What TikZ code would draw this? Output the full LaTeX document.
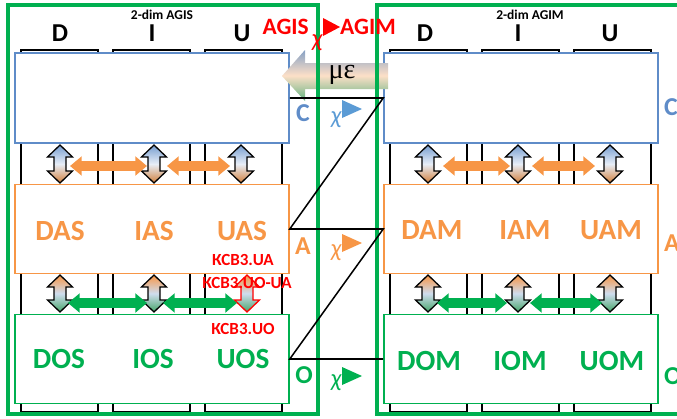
\documentclass[tikz,border=0pt]{standalone}
\usepackage{fontspec}
\setmainfont{Carlito}
\newfontfamily\grserif{Liberation Serif}
\usetikzlibrary{arrows.meta}

\definecolor{cblue}{RGB}{95,140,200}
\definecolor{xblue}{RGB}{91,155,213}
\definecolor{aorange}{RGB}{247,150,70}
\definecolor{ogreen}{RGB}{0,176,80}
\definecolor{tgreen}{RGB}{70,165,105}

% fat vertical double arrow: x, top y, bottom y, shading, border colour
\newcommand{\vdarr}[5]{%
  \shade[#4, draw=#5, line width=1.1pt, line join=miter]
    (#1,#2) -- ++(12.5,12) -- ++(-6.5,0) -- (#1+6,#3-12) -- ++(6.5,0)
    -- (#1,#3) -- ++(-12.5,-12) -- ++(6.5,0) -- (#1-6,#2+12) -- ++(-6.5,0) -- cycle;}

\begin{document}
\begin{tikzpicture}[x=0.03cm, y=-0.03cm,
    box/.style={draw, fill=white, line width=1.3pt, minimum width=8.22cm,
      minimum height=2.66cm, inner sep=0pt},
    col/.style={draw=black, line width=1.3pt},
    frame/.style={draw=ogreen, line width=2.6pt},
    colhead/.style={font=\fontsize{22}{22}\selectfont\bfseries, inner sep=0pt},
    lbl/.style={font=\fontsize{25}{25}\selectfont\bfseries, inner sep=0pt},
    side/.style={font=\fontsize{22}{22}\selectfont\bfseries, inner sep=0pt},
    tag/.style={text=red, font=\fontsize{14.5}{14.5}\selectfont\bfseries, inner sep=0pt},
    chi/.style={font=\fontsize{21}{21}\selectfont\itshape, inner sep=0pt},
    harr/.style={line width=8pt, {Triangle[length=10pt,width=16pt]}-{Triangle[length=10pt,width=16pt]}},
    caShade/.style={top color=cblue!85, bottom color=aorange!85!black, middle color=white!85!cblue},
    aoShade/.style={top color=aorange, bottom color=tgreen, middle color=white!70!cblue},
  ]
  \useasboundingbox (0,0) rectangle (677,418);
  \clip (0,0) rectangle (677,418);

  % columns D, I, U behind the boxes
  \foreach \x in {21,113,205,390,482,574}
    \draw[col] (\x,50) rectangle ++(77,362);

  % left system
  \node[box, draw=cblue, minimum height=2.7cm] (lC) at (152,98) {};
  \node[box, draw=aorange] (lA) at (152,229) {};
  \node[box, draw=ogreen] (lO) at (152,359) {};

  % right system
  \node[box, draw=cblue, minimum height=2.7cm] (rC) at (521,98) {};
  \node[box, draw=aorange] (rA) at (521,229) {};
  \node[box, draw=ogreen] (rO) at (521,359) {};

  % box texts
  \begin{scope}[text=aorange]
    \node[lbl] (das) at (60,231) {DAS};
    \node[lbl] (ias) at (154,231) {IAS};
    \node[lbl] (uas) at (242,231) {UAS};
    \node[lbl] (dam) at (432,230) {DAM};
    \node[lbl] (iam) at (525,230) {IAM};
    \node[lbl] (uam) at (611,230) {UAM};
  \end{scope}
  \begin{scope}[text=ogreen]
    \node[lbl] (dos) at (59,359) {DOS};
    \node[lbl] (ios) at (153,359) {IOS};
    \node[lbl] (uos) at (243,359) {UOS};
    \node[lbl] (dom) at (429,361) {DOM};
    \node[lbl] (iom) at (520,361) {IOM};
    \node[lbl] (uom) at (612,361) {UOM};
  \end{scope}

  % links C -- A
  \foreach \x in {60,154,241,428,518,610}
    \vdarr{\x}{145}{183}{caShade}{black};
  \begin{scope}[aorange]
    \draw[harr] (70,166) -- (147,166);
    \draw[harr] (167,166) -- (230,166);
    \draw[harr] (443,166) -- (510,166);
    \draw[harr] (532,166) -- (595,166);
  \end{scope}

  % links A -- O
  \foreach \x in {60,154,428,518,610}
    \vdarr{\x}{275}{312}{aoShade}{black};
  \vdarr{247}{275}{312}{aoShade}{red};
  \begin{scope}[ogreen]
    \draw[harr] (68,303) -- (147,303);
    \draw[harr] (163,303) -- (237,303);
    \draw[harr] (437,303) -- (507,303);
    \draw[harr] (530,303) -- (602,303);
  \end{scope}

  % mu epsilon arrow
  \shade[top color=cblue!75!gray!80, bottom color=tgreen!85, middle color=aorange!30]
    (282,76) -- (305,50) -- (305,63) -- (388,63) -- (388,89) -- (305,89) -- (305,101) -- cycle;
  \node[font=\grserif\fontsize{24}{24}\selectfont, inner sep=0pt] (me) at (342,75) {με};

  % frames
  \draw[frame] (8,5) rectangle (318,414);
  \draw[frame] (377,5) rectangle (700,414);

  % chi connectors
  \draw[line width=1.3pt] (lC.east) -- (rC.west) -- (lA.east) -- (rA.west) -- (lO.east) -- (rO.west);

  % titles and column heads
  \node[font=\fontsize{11.5}{11.5}\selectfont\bfseries, inner sep=0pt] (tl) at (162,15) {2-dim AGIS};
  \node[font=\fontsize{11.5}{11.5}\selectfont\bfseries, inner sep=0pt] (tr) at (530,15) {2-dim AGIM};
  \node[colhead] (hld) at (60,33) {D};
  \node[colhead] (hli) at (152,33) {I};
  \node[colhead] (hlu) at (242,33) {U};
  \node[colhead] (hrd) at (425,33) {D};
  \node[colhead] (hri) at (518,33) {I};
  \node[colhead] (hru) at (610,33) {U};

  % AGIS -> AGIM
  \node[text=red, font=\fontsize{20}{20}\selectfont\bfseries, inner sep=0pt, anchor=east] (agis) at (309,27) {AGIS};
  \node[chi, text=red] (chir) at (317,43) {χ};
  \fill[red] (323,18) -- (323,36) -- (340,27) -- cycle;
  \node[text=red, font=\fontsize{20}{20}\selectfont\bfseries, inner sep=0pt, anchor=west] (agim) at (340,27) {AGIM};

  % level letters
  \node[side, text=cblue] (lc) at (303,113) {C};
  \node[side, text=aorange] (la) at (303,246) {A};
  \node[side, text=ogreen] (lo) at (304,375) {O};
  \node[side, text=cblue, anchor=west] (rc) at (664,107) {C};
  \node[side, text=aorange, anchor=west] (ra) at (664,243) {A};
  \node[side, text=ogreen, anchor=west] (ro) at (664,376) {O};

  % chi with triangles
  \node[chi, text=xblue] (chic) at (336,120) {χ};
  \fill[xblue] (342,100) -- (342,118) -- (362,109) -- cycle;
  \node[chi, text=aorange] (chia) at (336,253) {χ};
  \fill[aorange] (342,234) -- (342,252) -- (362,243) -- cycle;
  \node[chi, text=ogreen] (chio) at (336,383) {χ};
  \fill[ogreen] (342,367) -- (342,385) -- (362,376) -- cycle;

  % red tags
  \node[tag] (tua) at (243,260) {КСВ3.UA};
  \node[tag] (tuoua) at (247,283) {КСВ3.UO-UA};
  \node[tag] (tuo) at (243,329) {КСВ3.UO};
\end{tikzpicture}
\end{document}
